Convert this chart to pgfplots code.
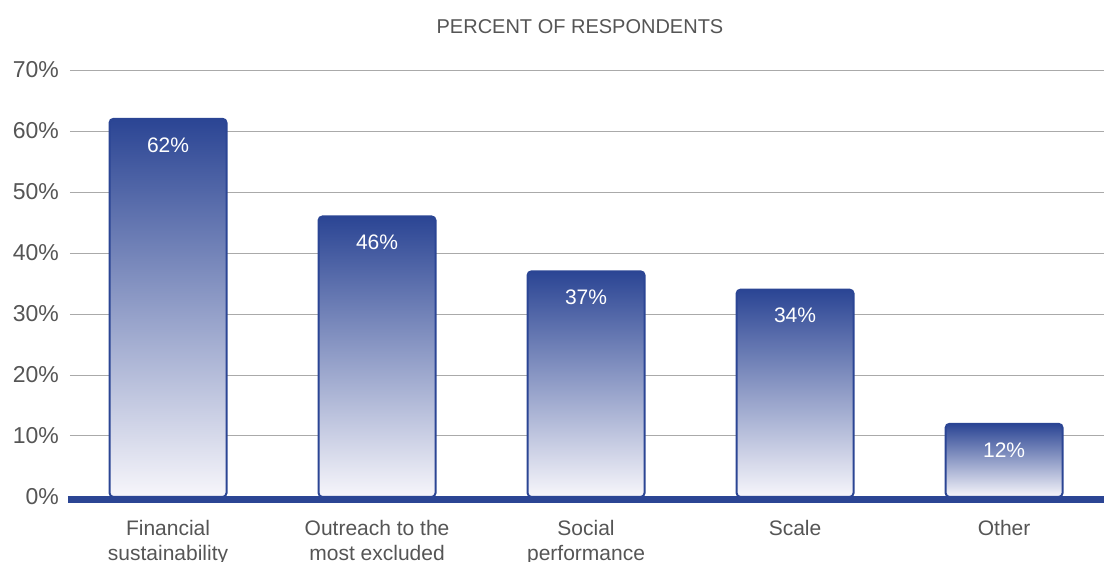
\documentclass[border=0pt]{standalone}
\usepackage{pgfplots}
\pgfplotsset{compat=1.18}
\usepackage{fontspec}
\setmainfont{Liberation Sans}

\definecolor{barblue}{RGB}{43,69,148}
\definecolor{barmid}{RGB}{148,150,200}
\definecolor{barlow}{RGB}{247,246,251}
\definecolor{txtgray}{RGB}{85,85,85}
\definecolor{gridgray}{RGB}{170,170,170}

\pgfplotsset{gbar/.style={draw=barblue, line width=1pt, rounded corners=2pt,
    top color=barblue, middle color=barmid, bottom color=barlow}}

\begin{document}
\begin{tikzpicture}
\begin{axis}[
    scale only axis,
    width=517pt, height=213.5pt,
    ybar, bar width=58.5pt, bar shift=0pt,
    xmin=-0.469, xmax=4.478,
    ymin=0, ymax=70,
    xtick={0,1,2,3,4},
    xticklabels={Financial\\sustainability, Outreach to the\\most excluded, Social\\performance, Scale, Other},
    ytick={0,10,...,70},
    yticklabels={0\%,10\%,20\%,30\%,40\%,50\%,60\%,70\%},
    major tick length=0pt,
    ymajorgrids,
    grid style={gridgray, line width=0.5pt},
    axis y line=left,
    axis x line=bottom,
    y axis line style={draw=none},
    x axis line style={draw=none, -},
    every tick label/.append style={text=txtgray},
    yticklabel style={font=\fontsize{11.5}{13}\selectfont, xshift=-2pt},
    xticklabel style={font=\fontsize{10.5}{12.5}\selectfont, align=center, yshift=-8pt},
    nodes near coords={\pgfmathprintnumber[assume math mode=true]{\pgfplotspointmeta}\%},
    every node near coord/.append style={anchor=north, yshift=-5.5pt, text=white,
        font=\fontsize{10.5}{12}\selectfont},
    clip=false,
]
\addplot[gbar] coordinates {(0,62)};
\addplot[gbar] coordinates {(1,46)};
\addplot[gbar] coordinates {(2,37)};
\addplot[gbar] coordinates {(3,34)};
\addplot[gbar] coordinates {(4,12)};
% thick baseline
\draw[barblue, line width=3.3pt] ([xshift=-1pt,yshift=-1.3pt]rel axis cs:0,0) -- ([yshift=-1.3pt]rel axis cs:1,0);
\node[text=txtgray, font=\fontsize{10}{12}\selectfont] at ([xshift=-3.5pt,yshift=21.5pt]rel axis cs:0.5,1) {PERCENT OF RESPONDENTS};
\end{axis}
\pgfresetboundingbox
\path[use as bounding box] (-35pt,-32.5pt) rectangle (517pt,248.5pt);
\end{tikzpicture}
\end{document}
